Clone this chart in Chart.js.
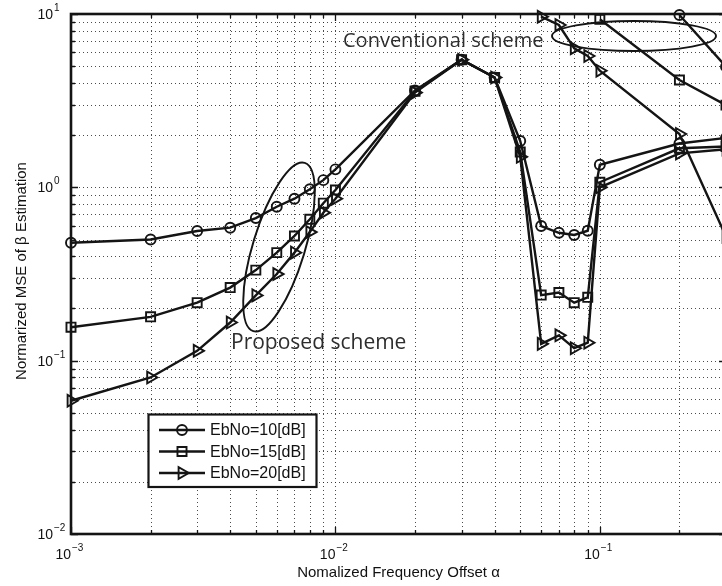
<!DOCTYPE html>
<html>
<head>
<meta charset="utf-8">
<script src="https://cdn.jsdelivr.net/npm/chart.js@4/dist/chart.umd.min.js"></script>
<style>
  html, body { margin: 0; padding: 0; background: #fff; overflow: hidden; width: 722px; height: 586px; }
  canvas { display: block; }
</style>
</head>
<body>
<canvas id="mse" width="745" height="586"></canvas>
<script>
// Normalized frequency offsets (alpha) of the proposed-scheme sweep
const freqOffsets = [0.001, 0.002, 0.003, 0.004, 0.005, 0.006, 0.007, 0.008, 0.009,
                     0.01, 0.02, 0.03, 0.04, 0.05, 0.06, 0.07, 0.08, 0.09, 0.1, 0.2, 0.3];
// MSE of beta estimation, proposed scheme
const mseProposed10 = [0.479, 0.50, 0.56, 0.585, 0.665, 0.773, 0.86, 0.974, 1.10,
                       1.27, 3.62, 5.45, 4.30, 1.85, 0.598, 0.547, 0.531, 0.562, 1.35, 1.79, 1.93];
const mseProposed15 = [0.156, 0.179, 0.216, 0.264, 0.333, 0.42, 0.524, 0.654, 0.81,
                       0.965, 3.58, 5.45, 4.30, 1.60, 0.239, 0.247, 0.216, 0.232, 1.07, 1.68, 1.72];
const mseProposed20 = [0.0587, 0.080, 0.114, 0.166, 0.238, 0.316, 0.42, 0.552, 0.714,
                       0.86, 3.52, 5.45, 4.30, 1.50, 0.125, 0.140, 0.118, 0.127, 1.00, 1.57, 1.66];
// Conventional scheme (only the part inside the plotted range)
const convOffsets10 = [0.2, 0.3];
const mseConv10 = [9.87, 4.97];
const convOffsets15 = [0.1, 0.2, 0.3];
const mseConv15 = [9.32, 4.16, 2.98];
const convOffsets20 = [0.06, 0.07, 0.08, 0.09, 0.1, 0.2, 0.3];
const mseConv20 = [9.65, 8.64, 6.34, 5.72, 4.71, 2.03, 0.52];

const seriesLabels = ['EbNo=10[dB]', 'EbNo=15[dB]', 'EbNo=20[dB]'];
const xDecadeExponents = [-3, -2, -1];
const yDecadeExponents = [-2, -1, 0, 1];
const xTitle = 'Nomalized Frequency Offset \u03B1';
const yTitle = 'Normarized MSE of \u03B2 Estimation';
const noteConventional = 'Conventional scheme';
const noteProposed = 'Proposed scheme';

const INK = '#141414';
const markers = [
  { pointStyle: 'circle', radius: 5, rotation: 0 },
  { pointStyle: 'rect', radius: 6.4, rotation: 0 },
  { pointStyle: 'triangle', radius: 6.8, rotation: 90 }
];

function series(label, xs, ys, m) {
  return {
    label,
    data: xs.map((x, i) => ({ x, y: ys[i] })),
    borderColor: INK,
    borderWidth: 2.4,
    pointStyle: m.pointStyle,
    pointRotation: m.rotation,
    pointRadius: m.radius,
    pointHoverRadius: m.radius,
    pointBorderWidth: 1.9,
    pointBorderColor: INK,
    pointBackgroundColor: 'rgba(0,0,0,0)',
    tension: 0,
    fill: false,
    clip: false
  };
}

// log grid values: 1..9 x 10^e within [lo, hi]
function logGrid(lo, hi) {
  const out = [];
  for (let e = Math.floor(Math.log10(lo)); e <= Math.ceil(Math.log10(hi)); e++) {
    for (let m = 1; m <= 9; m++) {
      const v = +(m * Math.pow(10, e)).toPrecision(6);
      if (v >= lo * 0.9999 && v <= hi * 1.0001) out.push({ v, major: m === 1 });
    }
  }
  return out;
}

function drawMarker(ctx, m, x, y) {
  ctx.save();
  ctx.strokeStyle = INK;
  ctx.fillStyle = 'rgba(0,0,0,0)';
  ctx.lineWidth = 1.9;
  if (Chart.helpers && Chart.helpers.drawPoint) {
    Chart.helpers.drawPoint(ctx, { pointStyle: m.pointStyle, rotation: m.rotation, radius: m.radius, borderWidth: 1.9 }, x, y);
  } else {
    ctx.beginPath();
    ctx.arc(x, y, m.radius, 0, Math.PI * 2);
    ctx.stroke();
  }
  ctx.restore();
}

function drawPow(ctx, xRight, yBase, exp) {
  ctx.font = '14px "Liberation Sans", Arial, sans-serif';
  ctx.textAlign = 'right';
  ctx.textBaseline = 'alphabetic';
  ctx.fillText('10', xRight, yBase);
  ctx.font = '10px "Liberation Sans", Arial, sans-serif';
  ctx.textAlign = 'left';
  ctx.fillText(String(exp).replace('-', '\u2212'), xRight + 1, yBase - 8);
}

const axesPlugin = {
  id: 'matlabAxes',
  beforeDatasetsDraw(chart) {
    const { ctx, chartArea: a, scales: { x, y } } = chart;
    ctx.save();
    ctx.strokeStyle = 'rgba(30,30,30,0.8)';
    ctx.lineWidth = 1;
    ctx.setLineDash([1, 3]);
    logGrid(x.min, x.max).forEach(g => {
      const px = Math.round(x.getPixelForValue(g.v)) + 0.5;
      ctx.beginPath(); ctx.moveTo(px, a.top); ctx.lineTo(px, a.bottom); ctx.stroke();
    });
    logGrid(y.min, y.max).forEach(g => {
      const py = Math.round(y.getPixelForValue(g.v)) + 0.5;
      ctx.beginPath(); ctx.moveTo(a.left, py); ctx.lineTo(a.right, py); ctx.stroke();
    });
    ctx.restore();
  },
  afterDatasetsDraw(chart) {
    const { ctx, chartArea: a, scales: { x, y } } = chart;
    ctx.save();
    // inward tick marks
    ctx.strokeStyle = INK;
    ctx.lineWidth = 1.3;
    logGrid(x.min, x.max).forEach(g => {
      const px = Math.round(x.getPixelForValue(g.v)) + 0.5;
      const len = g.major ? 7 : 4;
      ctx.beginPath();
      ctx.moveTo(px, a.bottom); ctx.lineTo(px, a.bottom - len);
      ctx.moveTo(px, a.top); ctx.lineTo(px, a.top + len);
      ctx.stroke();
    });
    logGrid(y.min, y.max).forEach(g => {
      const py = Math.round(y.getPixelForValue(g.v)) + 0.5;
      const len = g.major ? 7 : 4;
      ctx.beginPath();
      ctx.moveTo(a.left, py); ctx.lineTo(a.left + len, py);
      ctx.moveTo(a.right, py); ctx.lineTo(a.right - len, py);
      ctx.stroke();
    });
    // axes box
    ctx.lineWidth = 2.6;
    ctx.strokeRect(a.left, a.top, a.right - a.left, a.bottom - a.top);

    // tick labels
    ctx.fillStyle = '#111';
    xDecadeExponents.forEach(e => {
      const px = x.getPixelForValue(Math.pow(10, e));
      drawPow(ctx, px, a.bottom + 25, e);
    });
    yDecadeExponents.forEach(e => {
      const py = y.getPixelForValue(Math.pow(10, e));
      drawPow(ctx, a.left - 18, py + 5, e);
    });

    // axis titles
    ctx.font = '15px "Liberation Sans", Arial, sans-serif';
    ctx.textAlign = 'center';
    ctx.textBaseline = 'alphabetic';
    ctx.fillText(xTitle, (a.left + a.right) / 2, 577);
    ctx.save();
    ctx.translate(26, 271);
    ctx.rotate(-Math.PI / 2);
    ctx.fillText(yTitle, 0, 0);
    ctx.restore();

    // scheme notes and ellipses
    ctx.fillStyle = '#2e2e2e';
    ctx.textAlign = 'left';
    ctx.font = '20px "Open Sans", "Noto Sans", sans-serif';
    ctx.fillText(noteConventional, 343, 47);
    ctx.font = '21px "Open Sans", "Noto Sans", sans-serif';
    ctx.fillText(noteProposed, 231, 349);
    ctx.strokeStyle = INK;
    ctx.lineWidth = 1.9;
    ctx.beginPath();
    ctx.ellipse(279, 247, 26, 88, 17 * Math.PI / 180, 0, Math.PI * 2);
    ctx.stroke();
    ctx.beginPath();
    ctx.ellipse(634, 36, 82, 15, 0, 0, Math.PI * 2);
    ctx.stroke();

    // legend
    const L = { x: 148.5, y: 414.5, w: 168, h: 72.5 };
    ctx.fillStyle = '#fff';
    ctx.fillRect(L.x, L.y, L.w, L.h);
    ctx.lineWidth = 2.2;
    ctx.strokeStyle = INK;
    ctx.strokeRect(L.x, L.y, L.w, L.h);
    const rows = [430, 451.5, 473];
    seriesLabels.forEach((lab, i) => {
      const ry = rows[i];
      ctx.lineWidth = 2.4;
      ctx.strokeStyle = INK;
      ctx.beginPath(); ctx.moveTo(159, ry); ctx.lineTo(205, ry); ctx.stroke();
      drawMarker(ctx, markers[i], 182, ry);
      ctx.fillStyle = '#111';
      ctx.font = '16px "Liberation Sans", Arial, sans-serif';
      ctx.textAlign = 'left';
      ctx.textBaseline = 'middle';
      ctx.fillText(lab, 210, ry + 1);
    });
    ctx.restore();
  }
};

new Chart(document.getElementById('mse'), {
  type: 'line',
  data: {
    datasets: [
      series(seriesLabels[0], freqOffsets, mseProposed10, markers[0]),
      series(seriesLabels[1], freqOffsets, mseProposed15, markers[1]),
      series(seriesLabels[2], freqOffsets, mseProposed20, markers[2]),
      series(seriesLabels[0] + ' conv', convOffsets10, mseConv10, markers[0]),
      series(seriesLabels[1] + ' conv', convOffsets15, mseConv15, markers[1]),
      series(seriesLabels[2] + ' conv', convOffsets20, mseConv20, markers[2])
    ]
  },
  options: {
    responsive: false,
    animation: false,
    devicePixelRatio: 1,
    layout: { padding: { left: 71, top: 14, right: 19, bottom: 52 } },
    plugins: { legend: { display: false }, tooltip: { enabled: false } },
    scales: {
      x: { type: 'logarithmic', min: 0.001, max: 0.3, display: false },
      y: { type: 'logarithmic', min: 0.01, max: 10, display: false }
    }
  },
  plugins: [axesPlugin]
});
</script>
</body>
</html>
